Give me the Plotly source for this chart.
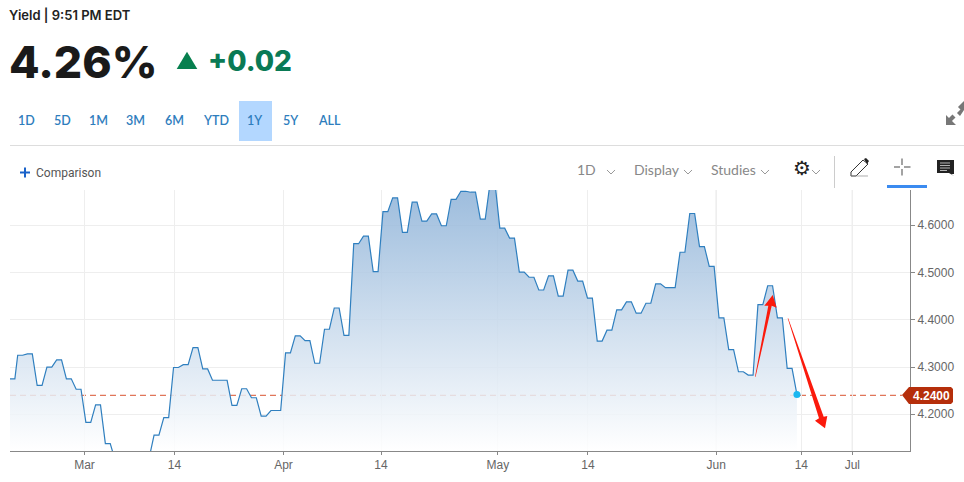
import plotly.graph_objects as go

# ---- data ----
sessions = [-0.79] + list(range(0, 27)) + [26.5] + [27.5 + k for k in range(40)] + [67] + list(range(68, 81))
sessions = sorted(sessions)
yields = [4.275,
    4.325, 4.328, 4.261, 4.300, 4.315, 4.275, 4.253, 4.183, 4.220, 4.138,
    4.103, 4.090, 4.090, 4.108, 4.156, 4.193, 4.299, 4.305, 4.341, 4.296,
    4.272, 4.272, 4.219, 4.254, 4.235, 4.196, 4.208, 4.208,
    4.330, 4.366, 4.356, 4.308, 4.380, 4.425, 4.367, 4.561, 4.577, 4.502,
    4.629, 4.658, 4.585, 4.649, 4.609, 4.624, 4.599, 4.655, 4.672, 4.670,
    4.613, 4.690, 4.594, 4.573, 4.501, 4.490, 4.463, 4.493, 4.450, 4.505,
    4.482, 4.446, 4.355, 4.378, 4.421, 4.438, 4.414, 4.435, 4.476, 4.468, 4.468,
    4.543, 4.625, 4.555, 4.513, 4.404, 4.337, 4.290, 4.283, 4.432, 4.472,
    4.404, 4.297, 4.242]
tick_labels = ["Mar", "14", "Apr", "14", "May", "14", "Jun", "14", "Jul"]
tick_sessions = [6.86, 16.10, 27.29, 37.30, 49.30, 58.55, 71.72, 80.45, 85.69]
month_sessions = [6.86, 27.29, 71.72, 85.69]
y_ticks = [4.2, 4.3, 4.4, 4.5, 4.6]
last_value = 4.24
range_buttons = ["1D", "5D", "1M", "3M", "6M", "YTD", "1Y", "5Y", "ALL"]

# ---- step line: each session holds flat for half a session, then moves ----
xs, ys = [], []
for s, v in zip(sessions, yields):
    xs += [s, s + 0.5]
    ys += [v, v]
xs, ys = xs[:-1], ys[:-1]

# ---- page geometry ----
W, H = 964, 482
L, R, T, B = 10, 910, 190, 451
def px(x): return (x - L) / (R - L)
def py(y): return (B - y) / (B - T)

shapes, notes = [], []
def poly(points, fill=None, line=None, width=1, close=True):
    d = "M" + " L".join(f"{px(a):.5f},{py(b):.5f}" for a, b in points) + (" Z" if close else "")
    shapes.append(dict(type="path", xref="paper", yref="paper", path=d, fillcolor=fill if fill else "rgba(0,0,0,0)",
                       line=dict(color=line if line else "rgba(0,0,0,0)", width=width if line else 0)))
def text(x, y, s, size=12, color="#444", font="Lato", anchor="left", weight=400):
    notes.append(dict(xref="paper", yref="paper", x=px(x), y=py(y), text=s, showarrow=False, xanchor=anchor, yanchor="middle",
                      font=dict(size=size, color=color, family=font, weight=weight), borderpad=0, borderwidth=0))
def chevron(x, y):
    poly([(x - 4, y - 2), (x, y + 2), (x + 4, y - 2)], line="#999", width=1, close=False)

# header
text(9, 15, "Yield | 9:51 PM EDT", 13, "#222", "Inter", weight=600)
text(9, 62, "4.26%", 44.5, "#1a1a1a", "Inter", weight=800)
poly([(176.7, 69), (187, 51.7), (197.3, 69)], fill="#07804f")
text(208, 61, "+0.02", 28, "#0a7a55", "Inter", weight=800)
poly([(239, 101), (272, 101), (272, 141), (239, 141)], fill="#b3d7ff")
for lab, cx in zip(range_buttons, [26, 62, 98.5, 135, 174, 216, 255, 290, 329]):
    text(cx, 120.5, lab, 12.5, "#2e7dbd", "Lato", "center", 600)
poly([(10, 145.5), (964, 145.5)], line="#dddddd", width=1, close=False)
poly([(20, 172.5), (30, 172.5)], line="#1a62c9", width=2, close=False)
poly([(25, 167.5), (25, 177.5)], line="#1a62c9", width=2, close=False)
text(36, 172.5, "Comparison", 12, "#555", "Roboto")

# toolbar
text(586, 169.5, "1D", 14, "#888", "Lato", "center")
chevron(611, 172)
text(634, 169.5, "Display", 14, "#888", "Lato")
chevron(688, 172)
text(711, 169.5, "Studies", 14, "#888", "Lato")
chevron(765, 172)
text(802, 167.5, "\u2699", 20, "#222", "DejaVu Sans", "center")
chevron(816, 172)
poly([(834.5, 156), (834.5, 188)], line="#cccccc", width=1, close=False)
poly([(851, 176), (851, 172), (863, 160), (868, 164), (856, 176), (851, 176)], line="#333", width=1, close=False)
poly([(864, 159), (866, 158), (869, 161), (867, 164)], fill="#222")
poly([(851, 176), (868, 176)], line="#999", width=0.8, close=False)
for a in [((894, 167), (900, 167)), ((904, 167), (910.5, 167)), ((902, 158.5), (902, 165)), ((902, 169), (902, 175.5))]:
    poly(list(a), line="#666", width=1.2, close=False)
poly([(887, 186.5), (927, 186.5)], line="#3b8bf0", width=3, close=False)
poly([(937, 160), (954, 160), (954, 174), (951.5, 174), (954, 176), (949, 173), (937, 173)], fill="#222")
for yy, x2 in [(163, 950), (165.5, 950), (168, 950), (170.5, 947)]:
    poly([(940, yy), (x2, yy)], line="#dddddd", width=0.8, close=False)
# expand icon
poly([(946, 125), (946, 115), (949, 118), (952.5, 114.5), (955.5, 117.5), (952, 121), (956, 125)], fill="#777777")
poly([(957, 113), (960.5, 109.5), (958, 107), (964, 101), (964, 110), (960, 116)], fill="#777777")

# price badge
poly([(902, 395), (909, 387), (951, 387), (953, 389), (953, 402), (951, 404), (909, 404)], fill="#b52e0b")
text(931.5, 395.5, "4.2400", 12, "#ffffff", "Liberation Sans", "center", 700)

# red arrows
poly([(755, 376.7), (768.3, 305.7), (764.3, 305.7), (772.7, 295), (776.7, 307.7), (771.7, 305.7), (755.6, 376.7)], fill="#fb1a0c")
poly([(787.7, 318.3), (819, 418.3), (815, 420.7), (825, 428.3), (827.3, 416), (823.7, 416.7), (788.2, 318.3)], fill="#fb1a0c")

# lines tied to the data axes
for m in month_sessions:
    shapes.append(dict(type="line", xref="x", yref="paper", x0=m, x1=m, y0=0, y1=1, layer="below",
                       line=dict(color="#cfcfcf", width=1)))
shapes.append(dict(type="line", xref="paper", yref="y", x0=0, x1=px(902), y0=last_value, y1=last_value, layer="below",
                   line=dict(color="#e0765a", width=1.4, dash="6px,4px")))

fig = go.Figure()
fig.add_trace(go.Scatter(x=xs, y=ys, mode="lines", line=dict(color="#2f7fbf", width=1.2), fill="tozeroy",
    fillgradient=dict(type="vertical", start=4.6747, stop=4.1223,
        colorscale=[[0, "rgba(140,177,215,0.85)"], [1, "rgba(255,255,255,0.85)"]]),
    hoverinfo="skip", showlegend=False))
fig.add_trace(go.Scatter(x=[sessions[-1]], y=[yields[-1]], mode="markers",
    marker=dict(color="#1ab7f0", size=7), hoverinfo="skip", showlegend=False))

fig.update_layout(width=W, height=H, margin=dict(l=L, r=W - R, t=T, b=H - B, pad=0), autosize=False,
    paper_bgcolor="white", plot_bgcolor="white", shapes=shapes, annotations=notes, showlegend=False,
    xaxis=dict(range=[-0.79, 91.61], tickmode="array", tickvals=tick_sessions, ticktext=tick_labels, showgrid=True,
        gridcolor="#eeeeee", gridwidth=1, zeroline=False, showline=True, linecolor="#888888", linewidth=1, ticks="outside",
        ticklen=3, tickcolor="#888888", tickfont=dict(family="Liberation Sans", size=12, color="#666666")),
    yaxis=dict(range=[4.1223, 4.6747], side="right", tickmode="array", tickvals=y_ticks, tickformat=".4f", showgrid=True,
        gridcolor="#eeeeee", gridwidth=1, zeroline=False, showline=True, linecolor="#888888", linewidth=1, ticks="outside",
        ticklen=4, tickcolor="#888888", tickfont=dict(family="Liberation Sans", size=12, color="#666666")))
fig.write_html("out.html", config=dict(displayModeBar=False), post_script="document.body.style.margin='0';")
